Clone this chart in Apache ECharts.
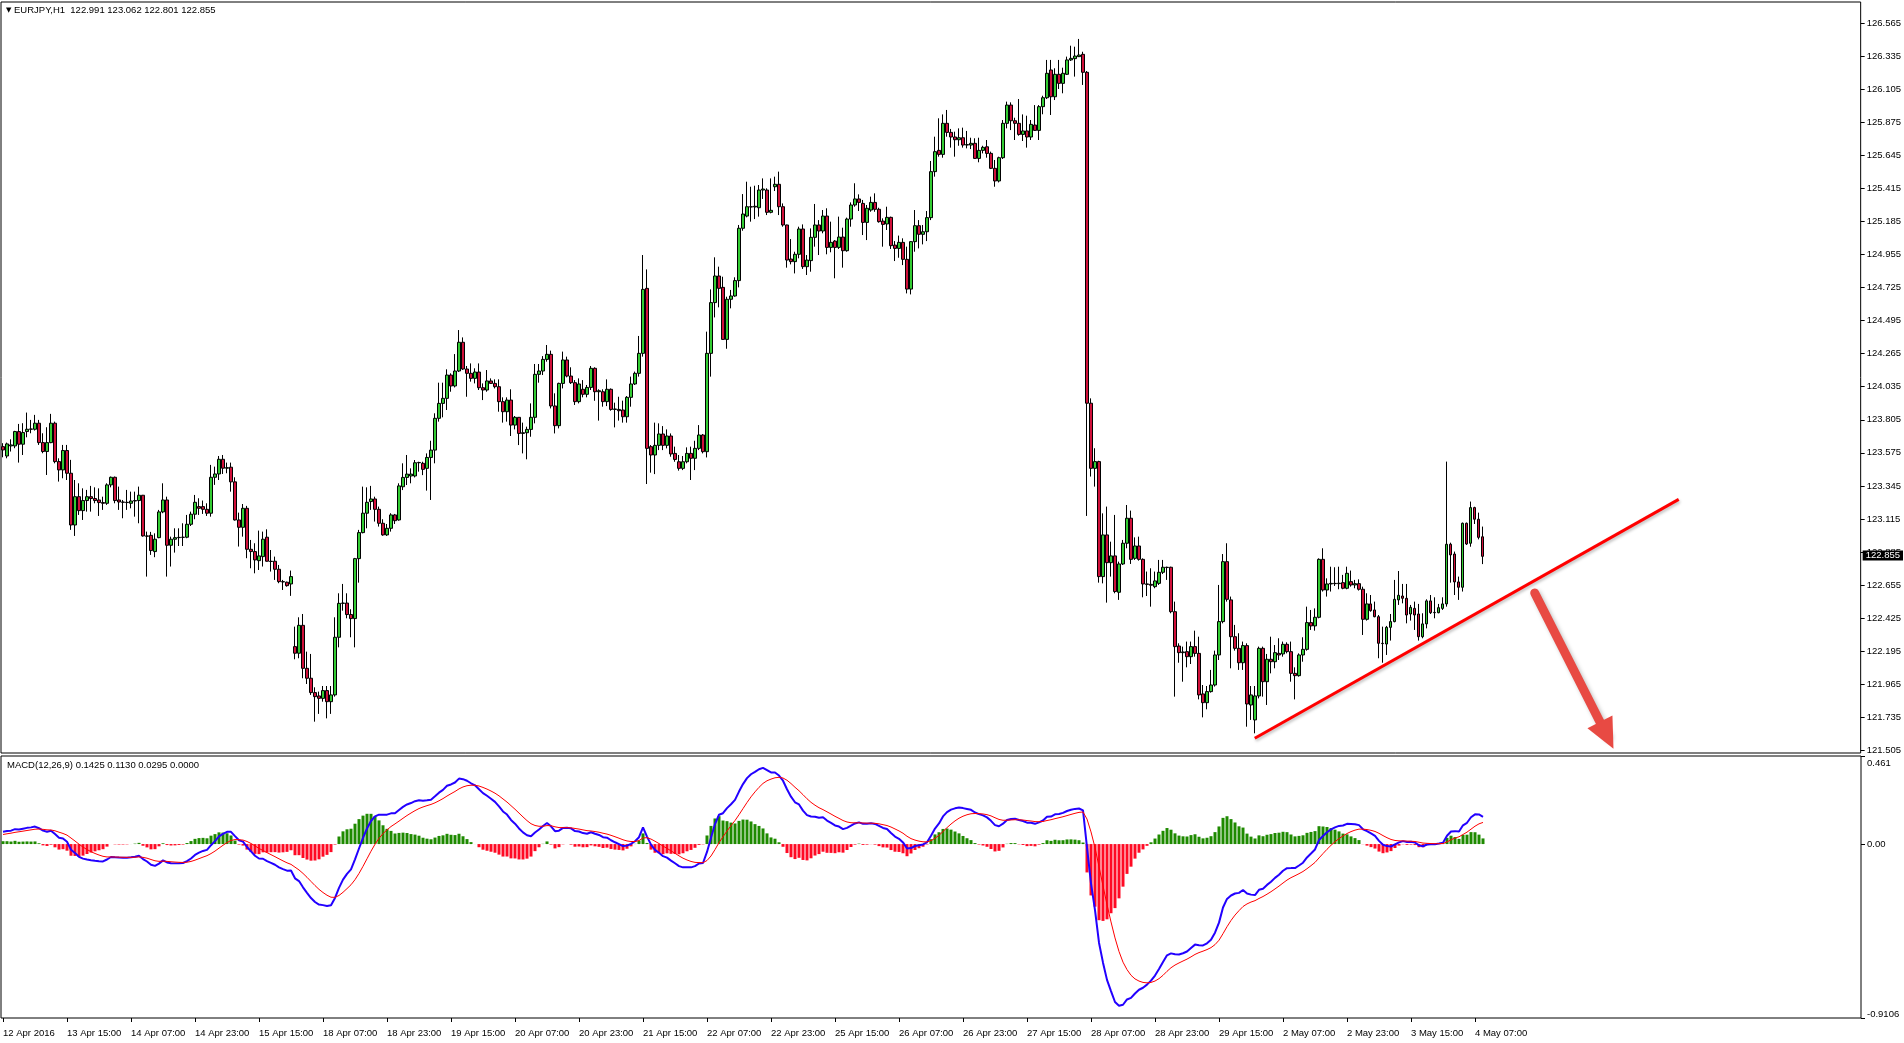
<!DOCTYPE html>
<html><head><meta charset="utf-8">
<script src="https://cdn.jsdelivr.net/npm/echarts@6/dist/echarts.min.js"></script>
<style>html,body{margin:0;padding:0;background:#fff}#c{width:1904px;height:1043px}</style>
</head><body><div id="c"></div>
<script>
// ---- DATA ----  each row: [open, high, low, close]
const week1 = [ // 12 Apr 23:00 .. 15 Apr 23:00
[123.618,123.642,123.544,123.595],[123.553,123.646,123.537,123.637],[123.623,123.669,123.584,123.630],[123.623,123.728,123.607,123.723],
[123.723,123.776,123.507,123.635],[123.635,123.781,123.560,123.716],[123.723,123.855,123.683,123.739],[123.739,123.804,123.711,123.741],
[123.739,123.839,123.730,123.781],[123.781,123.804,123.630,123.646],[123.646,123.711,123.572,123.584],[123.584,123.753,123.421,123.646],
[123.646,123.846,123.642,123.781],[123.781,123.792,123.502,123.514],[123.514,123.537,123.375,123.456],[123.456,123.630,123.398,123.591],
[123.591,123.630,123.386,123.433],[123.433,123.526,123.039,123.073],[123.073,123.386,122.997,123.270],[123.270,123.363,123.143,123.173],
[123.173,123.328,123.108,123.243],[123.243,123.317,123.166,123.270],[123.270,123.345,123.166,123.257],[123.257,123.335,123.224,123.243],
[123.247,123.328,123.136,123.229],[123.229,123.270,123.178,123.224],[123.224,123.363,123.213,123.352],[123.352,123.410,123.335,123.405],
[123.405,123.410,123.224,123.243],[123.247,123.340,123.178,123.233],[123.233,123.247,123.120,123.231],[123.231,123.317,123.178,123.229],
[123.224,123.305,123.189,123.240],[123.240,123.305,123.131,123.243],[123.243,123.340,123.085,123.280],[123.280,123.282,122.992,122.997],
[122.997,123.027,122.714,122.995],[123.001,123.025,122.865,122.895],[122.888,123.015,122.849,122.974],[122.985,123.178,122.981,123.164],
[123.164,123.363,123.155,123.247],[123.247,123.270,122.714,122.932],[122.932,122.992,122.784,122.974],[122.974,123.050,122.881,122.985],
[122.985,123.050,122.927,122.987],[122.987,123.085,122.927,122.988],[122.988,123.143,122.981,123.078],[123.078,123.166,123.066,123.148],
[123.148,123.282,123.113,123.231],[123.201,123.259,123.143,123.189],[123.201,123.243,123.150,123.182],[123.182,123.224,123.136,123.155],
[123.155,123.491,123.131,123.405],[123.405,123.479,123.352,123.428],[123.428,123.553,123.386,123.530],[123.530,123.560,123.428,123.468],
[123.468,123.507,123.433,123.472],[123.475,123.507,123.305,123.373],[123.373,123.405,123.104,123.108],[123.108,123.159,122.923,123.057],
[123.057,123.219,122.992,123.189],[123.189,123.206,122.842,122.904],[122.904,122.969,122.772,122.888],[122.888,122.946,122.737,122.830],
[122.825,123.034,122.760,122.858],[122.853,123.027,122.784,122.974],[122.988,123.043,122.818,122.821],[122.821,122.899,122.749,122.819],
[122.821,122.853,122.691,122.765],[122.765,122.795,122.668,122.679],[122.679,122.691,122.621,122.677],[122.675,122.679,122.644,122.651],
[122.663,122.756,122.580,122.714]
];
const week2 = [ // 18 Apr 00:00 .. 22 Apr 23:00
[122.227,122.366,122.139,122.181],[122.181,122.431,122.146,122.375],[122.375,122.454,122.007,122.076],[122.076,122.192,121.967,122.007],
[122.007,122.176,121.891,121.907],[121.907,121.944,121.705,121.879],[121.884,121.914,121.759,121.867],[121.867,121.953,121.844,121.921],
[121.921,121.953,121.728,121.844],[121.844,121.953,121.759,121.891],[121.891,122.431,121.879,122.292],[122.292,122.598,122.222,122.528],
[122.528,122.663,122.477,122.530],[122.530,122.598,122.424,122.450],[122.450,122.487,122.292,122.422],[122.422,122.844,122.222,122.839],
[122.839,123.039,122.672,123.020],[123.020,123.340,123.015,123.155],[123.155,123.335,123.050,123.231],[123.236,123.345,123.178,123.254],
[123.254,123.270,123.097,123.182],[123.182,123.201,123.062,123.085],[123.085,123.113,122.998,123.004],[123.004,123.080,122.997,123.050],
[123.050,123.155,123.027,123.143],[123.143,123.150,123.080,123.103],[123.108,123.363,123.103,123.345],[123.339,123.502,123.316,123.404],
[123.404,123.560,123.351,123.427],[123.414,123.467,123.363,123.427],[123.414,123.525,123.404,123.506],[123.506,123.513,123.444,123.508],
[123.502,123.513,123.420,123.460],[123.467,123.571,123.312,123.543],[123.543,123.659,123.247,123.594],[123.594,123.850,123.502,123.815],
[123.815,124.063,123.792,123.919],[123.919,124.063,123.822,123.954],[123.954,124.156,123.873,124.116],[124.116,124.128,124.000,124.040],
[124.040,124.262,124.030,124.144],[124.144,124.429,124.137,124.344],[124.344,124.378,124.151,124.158],[124.158,124.179,123.965,124.128],
[124.128,124.197,124.070,124.093],[124.093,124.163,124.058,124.137],[124.137,124.197,124.012,124.028],[124.028,124.058,123.942,124.012],
[124.012,124.151,124.000,124.075],[124.075,124.093,124.054,124.058],[124.058,124.086,124.023,124.035],[124.035,124.086,123.861,123.931],
[123.931,123.961,123.785,123.861],[123.861,123.961,123.792,123.942],[123.942,124.017,123.692,123.768],[123.768,123.831,123.738,123.822],
[123.822,123.824,123.629,123.710],[123.710,123.785,123.571,123.715],[123.715,123.757,123.530,123.738],[123.738,123.919,123.687,123.822],
[123.822,124.193,123.780,124.121],[124.121,124.193,124.063,124.144],[124.144,124.248,124.116,124.225],[124.225,124.325,124.209,124.260],
[124.260,124.286,123.884,123.901],[123.901,123.989,123.710,123.764],[123.764,124.063,123.745,124.058],[124.058,124.279,124.023,124.221],
[124.221,124.244,124.100,124.109],[124.109,124.170,124.054,124.063],[124.063,124.081,123.908,123.931],[123.931,124.093,123.919,124.054],
[124.017,124.081,123.961,123.982],[123.982,124.047,123.961,124.030],[124.030,124.179,124.012,124.163],[124.163,124.170,123.937,124.000],
[124.000,124.017,123.799,124.007],[124.000,124.017,123.896,123.931],[123.931,124.086,123.900,124.017],[124.017,124.023,123.868,123.877],
[123.877,123.924,123.752,123.880],[123.877,123.965,123.799,123.868],[123.873,123.938,123.785,123.826],[123.826,123.970,123.785,123.961],
[123.961,124.105,123.896,124.054],[124.054,124.140,124.047,124.128],[124.128,124.388,124.105,124.267],[124.267,124.951,124.244,124.712],
[124.719,124.851,123.358,123.606],[123.618,123.629,123.437,123.560],[123.560,123.785,123.427,123.627],[123.627,123.780,123.594,123.706],
[123.706,123.761,123.594,123.627],[123.627,123.738,123.606,123.692],[123.692,123.710,123.548,123.567],[123.571,123.618,123.513,123.529],
[123.513,123.560,123.451,123.467],[123.467,123.553,123.455,123.513],[123.513,123.613,123.502,123.571],[123.571,123.618,123.386,123.537],
[123.537,123.659,123.455,123.606],[123.606,123.768,123.594,123.699],[123.699,123.706,123.571,123.583],[123.583,124.418,123.543,124.267],
[124.267,124.712,124.105,124.620],[124.620,124.935,124.517,124.805],[124.805,124.870,124.587,124.719],[124.726,124.800,124.360,124.364],
[124.364,124.661,124.299,124.643],[124.643,124.708,124.580,124.666],[124.666,124.796,124.661,124.773],[124.773,125.160,124.726,125.137],
[125.137,125.375,125.120,125.236],[125.222,125.461,125.213,125.287],[125.287,125.426,125.183,125.285],[125.285,125.433,125.201,125.290],
[125.280,125.438,125.218,125.403],[125.403,125.484,125.341,125.410],[125.403,125.415,125.229,125.248],[125.248,125.484,125.241,125.262]
];
const week3 = [ // 25 Apr 00:00 .. 29 Apr 23:00
[125.426,125.496,125.396,125.443],[125.443,125.531,125.229,125.287],[125.287,125.310,125.148,125.160],[125.160,125.162,124.863,124.916],
[124.923,125.062,124.886,124.905],[124.905,124.974,124.823,124.956],[124.956,125.148,124.928,125.132],[125.132,125.164,124.854,124.870],
[124.870,124.951,124.812,124.916],[124.912,125.136,124.835,125.074],[125.074,125.306,125.009,125.160],[125.160,125.194,124.951,125.118],
[125.118,125.264,125.102,125.222],[125.222,125.276,124.956,125.004],[125.004,125.183,124.970,125.039],[125.048,125.055,124.789,125.004],
[125.004,125.218,124.993,125.076],[125.076,125.141,124.863,124.981],[124.981,125.211,124.974,125.201],[125.201,125.317,125.148,125.299],
[125.299,125.450,125.287,125.341],[125.341,125.373,125.257,125.317],[125.310,125.334,125.090,125.178],[125.178,125.299,125.055,125.276],
[125.264,125.357,125.252,125.317],[125.317,125.380,125.252,125.269],[125.269,125.280,125.176,125.183],[125.187,125.206,125.009,125.164],
[125.167,125.287,125.125,125.213],[125.213,125.218,124.993,125.016],[125.020,125.048,124.909,124.997],[124.997,125.086,124.932,125.039],
[125.039,125.067,124.881,124.921],[124.921,125.009,124.684,124.714],[124.714,125.048,124.677,125.044],[125.044,125.264,124.974,125.155],
[125.155,125.194,124.997,125.095],[125.095,125.160,125.025,125.113],[125.113,125.257,125.048,125.211],[125.211,125.605,125.194,125.531],
[125.531,125.774,125.496,125.670],[125.679,125.902,125.635,125.651],[125.651,125.929,125.628,125.867],[125.867,125.960,125.774,125.804],
[125.804,125.828,125.698,125.772],[125.772,125.809,125.635,125.753],[125.753,125.832,125.711,125.767],[125.767,125.837,125.698,125.716],
[125.716,125.814,125.693,125.719],[125.716,125.767,125.688,125.728],[125.728,125.763,125.619,125.623],[125.623,125.767,125.596,125.679],
[125.679,125.711,125.658,125.700],[125.704,125.751,125.628,125.658],[125.658,125.670,125.549,125.554],[125.554,125.612,125.426,125.466],
[125.466,125.635,125.456,125.628],[125.628,125.890,125.619,125.867],[125.867,126.018,125.832,125.994],[125.994,126.013,125.820,125.885],
[125.885,125.906,125.751,125.867],[125.867,126.036,125.781,125.790],[125.790,125.929,125.744,125.814],[125.814,125.920,125.698,125.772],
[125.772,125.890,125.751,125.860],[125.855,125.994,125.814,125.818],[125.818,125.994,125.751,125.983],[125.983,126.059,125.930,126.045],
[126.045,126.308,126.036,126.215],[126.238,126.308,125.925,126.052],[126.052,126.250,126.029,126.208],[126.208,126.308,126.106,126.145],
[126.145,126.254,126.076,126.215],[126.208,126.331,126.203,126.308],[126.308,126.407,126.301,126.319],[126.317,126.400,126.192,126.335],
[126.331,126.454,126.328,126.342],[126.347,126.365,126.134,126.222],[126.222,126.231,123.136,123.920],[123.920,123.954,123.410,123.467],
[123.467,123.607,123.340,123.514],[123.514,123.520,122.672,122.714],[122.714,123.154,122.667,123.004],[123.004,123.201,122.533,122.811],
[122.811,122.957,122.714,122.858],[122.858,123.143,122.598,122.610],[122.605,122.818,122.552,122.802],[122.802,122.969,122.795,122.946],
[122.946,123.212,122.911,123.120],[123.120,123.173,122.802,122.834],[122.841,122.987,122.830,122.927],[122.927,122.992,122.825,122.834],
[122.834,122.841,122.570,122.663],[122.663,122.749,122.579,122.660],[122.660,122.772,122.505,122.654],[122.644,122.749,122.633,122.684],
[122.667,122.830,122.656,122.744],[122.744,122.830,122.732,122.779],[122.779,122.783,122.691,122.777],[122.779,122.783,122.459,122.470],
[122.470,122.540,121.879,122.227],[122.231,122.250,122.115,122.185],[122.185,122.227,121.983,122.190],[122.192,122.262,122.083,122.157],
[122.157,122.262,122.106,122.227],[122.227,122.338,122.157,122.180],[122.180,122.296,121.860,121.891],[121.898,121.960,121.735,121.837],
[121.837,121.953,121.791,121.914],[121.914,122.065,121.907,121.960],[121.960,122.199,121.949,122.169],[122.169,122.656,122.134,122.401],
[122.401,122.871,122.389,122.818],[122.818,122.946,122.540,122.556],[122.552,122.575,122.076,122.296],[122.296,122.378,122.199,122.215],
[122.215,122.320,122.065,122.115],[122.115,122.262,122.065,122.234],[122.234,122.250,121.670,121.828],[121.821,121.953,121.717,121.891]
];
const week4 = [ // 2 May 00:00 .. 4 May 09:00
[121.717,121.953,121.624,121.884],[121.884,122.227,121.867,122.215],[122.215,122.227,121.879,121.983],[121.983,122.176,121.821,122.139],
[122.139,122.296,122.041,122.122],[122.122,122.238,122.076,122.185],[122.180,122.285,122.134,122.169],[122.176,122.262,122.157,122.243],
[122.243,122.257,122.180,122.192],[122.192,122.262,121.983,122.041],[122.041,122.083,121.860,122.025],[122.025,122.180,122.018,122.169],
[122.169,122.292,122.122,122.208],[122.208,122.505,122.199,122.394],[122.394,122.482,122.343,122.371],[122.371,122.493,122.338,122.431],
[122.431,122.841,122.424,122.834],[122.834,122.911,122.610,122.621],[122.621,122.702,122.575,122.663],[122.663,122.783,122.610,122.667],
[122.667,122.779,122.649,122.665],[122.665,122.783,122.626,122.668],[122.672,122.726,122.626,122.633],[122.633,122.783,122.626,122.737],
[122.679,122.756,122.644,122.656],[122.656,122.691,122.633,122.665],[122.665,122.695,122.617,122.626],[122.626,122.644,122.308,122.417],
[122.417,122.598,122.408,122.524],[122.524,122.586,122.470,122.477],[122.482,122.540,122.431,122.435],[122.435,122.447,122.146,122.250],
[122.250,122.366,122.115,122.248],[122.245,122.371,122.169,122.361],[122.361,122.454,122.269,122.401],[122.401,122.691,122.396,122.556],
[122.552,122.753,122.517,122.584],[122.579,122.663,122.528,122.563],[122.563,122.663,122.389,122.447],[122.454,122.517,122.408,122.500],
[122.493,122.540,122.343,122.447],[122.454,122.524,122.269,122.296],[122.296,122.459,122.285,122.385],[122.385,122.556,122.354,122.545],
[122.545,122.586,122.454,122.463],[122.463,122.570,122.424,122.465],[122.463,122.524,122.459,122.498],[122.493,122.570,122.482,122.524],
[122.524,123.514,122.505,122.939],[122.939,122.950,122.672,122.865],[122.871,122.888,122.586,122.677],[122.677,122.714,122.552,122.640],
[122.640,123.090,122.610,123.085],[123.085,123.090,122.934,122.941],[122.946,123.236,122.922,123.194],[123.194,123.200,123.080,123.113],
[123.113,123.159,122.973,122.987],[122.991,123.062,122.801,122.855]
];

const xTickLabels = ['12 Apr 2016','13 Apr 15:00','14 Apr 07:00','14 Apr 23:00','15 Apr 15:00','18 Apr 07:00','18 Apr 23:00',
  '19 Apr 15:00','20 Apr 07:00','20 Apr 23:00','21 Apr 15:00','22 Apr 07:00','22 Apr 23:00','25 Apr 15:00','26 Apr 07:00',
  '26 Apr 23:00','27 Apr 15:00','28 Apr 07:00','28 Apr 23:00','29 Apr 15:00','2 May 07:00','2 May 23:00','3 May 15:00','4 May 07:00'];
const priceTicks = [126.565,126.335,126.105,125.875,125.645,125.415,125.185,124.955,124.725,124.495,124.265,124.035,
  123.805,123.575,123.345,123.115,122.885,122.655,122.425,122.195,121.965,121.735,121.505];
const macdTicks = [0.461, 0, -0.9106];
const macdTickLabels = ['{top|0.461}', '0.00', '{bot|-0.9106}'];
const macdHeader = 'MACD(12,26,9) 0.1425 0.1130 0.0295 0.0000';
// MACD state at the first visible bar
const startMacd = 0.065, startSignal = 0.05;
// annotations (bar index, price)
const trendLine = [[313, 121.590], [419, 123.251]];
const downArrow = [[383, 122.600], [401, 121.610]];
const lastPrice = 122.855;

// ---- build ----
const SLOTS = 465;   // bars + empty space to the right (chart shift)
const bars = week1.concat(week2, week3, week4);
const closes = bars.map(b => b[3]);
const candleData = bars.map(b => [b[0], b[3], b[2], b[1]]);
const cats = [];
for (let i = 0; i < SLOTS; i++) cats.push(i % 16 === 0 && xTickLabels[i / 16] ? xTickLabels[i / 16] : String(i));
const showTick = (idx) => idx % 16 === 0 && idx / 16 < xTickLabels.length;

// MACD(12,26,9) from the closes
const k12 = 2 / 13, k26 = 2 / 27, k9 = 2 / 10;
let e26 = closes[0] - 2 * startMacd, e12 = e26 + startMacd, sig = startSignal;
const macd = [], signal = [], hist = [];
for (let i = 0; i < closes.length; i++) {
  if (i > 0) {
    e12 += k12 * (closes[i] - e12);
    e26 += k26 * (closes[i] - e26);
    sig += k9 * ((e12 - e26) - sig);
  }
  const m = e12 - e26;
  macd.push(+m.toFixed(5)); signal.push(+sig.toFixed(5));
  const h = m - sig;
  hist.push({ value: +h.toFixed(5), itemStyle: { color: h >= 0 ? '#1e8a00' : '#ff0a24' } });
}

const FONT = '"Liberation Sans", Arial, "DejaVu Sans", sans-serif';
const last = bars[bars.length - 1];
const header = '{tri|▼} EURJPY,H1  ' + last.map(v => v.toFixed(3)).join(' ');

const chart = echarts.init(document.getElementById('c'), null, { renderer: 'canvas' });
chart.setOption({
  animation: false,
  backgroundColor: '#ffffff',
  textStyle: { fontFamily: FONT },
  title: [
    { text: header, left: 6, top: 5, padding: 0,
      textStyle: { fontFamily: FONT, fontSize: 9.5, fontWeight: 'normal', color: '#000',
        rich: { tri: { fontFamily: '"DejaVu Sans"', fontSize: 7, color: '#000' } } } },
    { text: macdHeader, left: 7, top: 760, padding: 0,
      textStyle: { fontFamily: FONT, fontSize: 9.5, fontWeight: 'normal', color: '#000' } }
  ],
  grid: [
    { left: 1, right: 43, top: 2, height: 751, show: true, borderColor: '#000', borderWidth: 1, backgroundColor: 'transparent' },
    { left: 1, right: 43, top: 756, height: 262, show: true, borderColor: '#000', borderWidth: 1, backgroundColor: 'transparent' }
  ],
  xAxis: [
    { type: 'category', gridIndex: 0, data: cats, boundaryGap: true,
      axisLine: { show: false, onZero: false }, axisTick: { show: false }, axisLabel: { show: false }, splitLine: { show: false } },
    { type: 'category', gridIndex: 1, data: cats, boundaryGap: true, position: 'bottom',
      axisLine: { show: false, onZero: false },
      axisTick: { show: true, interval: showTick, alignWithLabel: true, length: 4, lineStyle: { color: '#000' } },
      axisLabel: { show: true, interval: showTick, align: 'left', margin: 10, color: '#000', fontSize: 9.5, fontFamily: FONT },
      splitLine: { show: false } }
  ],
  yAxis: [
    { type: 'value', gridIndex: 0, position: 'right', min: 121.487, max: 126.711, scale: true,
      axisLine: { show: false }, splitLine: { show: false },
      axisTick: { show: true, customValues: priceTicks, length: 4, lineStyle: { color: '#000' } },
      axisLabel: { show: true, customValues: priceTicks, margin: 6, color: '#000', fontSize: 9.5, fontFamily: FONT,
        formatter: v => v.toFixed(3) } },
    { type: 'value', gridIndex: 1, position: 'right', min: -0.9106, max: 0.461,
      axisLine: { show: false }, splitLine: { show: false },
      axisTick: { show: true, customValues: macdTicks, length: 4, lineStyle: { color: '#000' } },
      axisLabel: { show: true, customValues: macdTicks, margin: 6, color: '#000', fontSize: 9.5, fontFamily: FONT,
        rich: { top: { fontSize: 9.5, fontFamily: FONT, color: '#000', padding: [14, 0, 0, 0] },
                bot: { fontSize: 9.5, fontFamily: FONT, color: '#000', padding: [0, 0, 8, 0] } },
        formatter: v => macdTickLabels[macdTicks.findIndex(t => Math.abs(t - v) < 1e-6)] ?? '' } }
  ],
  series: [
    { type: 'candlestick', xAxisIndex: 0, yAxisIndex: 0, data: candleData, barWidth: 3,
      itemStyle: { color: '#33cc33', color0: '#d0103a', borderColor: '#000', borderColor0: '#000', borderWidth: 1 },
      markLine: {
        silent: true, animation: false, symbol: ['none', 'none'],
        label: { show: false },
        emphasis: { disabled: true },
        data: [
          [ { coord: trendLine[0], lineStyle: { color: '#ff0000', width: 3, type: 'solid',
                shadowColor: 'rgba(0,0,0,0.25)', shadowBlur: 3, shadowOffsetX: 1, shadowOffsetY: 2 } },
            { coord: trendLine[1] } ],
          [ { coord: downArrow[0], symbol: 'none', lineStyle: { color: '#e84a43', width: 9, type: 'solid', cap: 'round',
                shadowColor: 'rgba(0,0,0,0.25)', shadowBlur: 4, shadowOffsetX: 2, shadowOffsetY: 2 } },
            { coord: downArrow[1], symbol: 'triangle', symbolSize: [28, 30] } ],
          { yAxis: lastPrice, lineStyle: { color: 'rgba(255,255,255,0)', width: 1, type: 'solid' },
            label: { show: true, position: 'end', distance: 2, formatter: lastPrice.toFixed(3),
              backgroundColor: '#000', color: '#fff', padding: [0, 3, 0, 3], lineHeight: 10, fontSize: 9.5, fontFamily: FONT } }
        ]
      }
    },
    { type: 'bar', xAxisIndex: 1, yAxisIndex: 1, data: hist, barWidth: 3, silent: true },
    { type: 'line', xAxisIndex: 1, yAxisIndex: 1, data: macd, showSymbol: false, symbol: 'none', silent: true,
      lineStyle: { color: '#2200ff', width: 2 } },
    { type: 'line', xAxisIndex: 1, yAxisIndex: 1, data: signal, showSymbol: false, symbol: 'none', silent: true,
      lineStyle: { color: '#ff0000', width: 1 } }
  ]
});
</script>
</body></html>
